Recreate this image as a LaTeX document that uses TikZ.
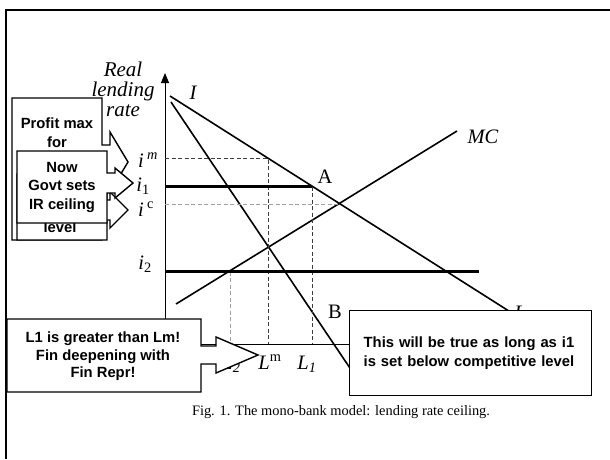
\documentclass[tikz,border=0pt]{standalone}
\usepackage{fontspec}
\setmainfont{Liberation Serif}
\setsansfont{Liberation Sans}
\usepackage{xcolor}
\usepackage{tikz}
\usetikzlibrary{arrows.meta,positioning,calc}
\definecolor{inkP}{HTML}{000000}
\definecolor{guideD}{HTML}{3C3C3C}
\definecolor{guideL}{HTML}{A0A0A0}
\tikzset{
  frameline/.style={line width=2.5pt, inkP},
  axisline/.style={line width=0.9pt, inkP},
  curveline/.style={line width=1.6pt, inkP},
  ceilline/.style={line width=2.8pt, inkP},
  dashD/.style={guideD, line width=0.9pt, dash pattern=on 4pt off 2.5pt},
  dashL/.style={guideL, line width=0.9pt, dash pattern=on 4pt off 2.5pt},
  ratelab/.style={font=\fontsize{20.5}{20}\selectfont\itshape, inner sep=0pt},
  ptlab/.style={font=\fontsize{20.5}{20}\selectfont, inner sep=0pt},
  calledge/.style={draw=inkP, line width=1.4pt, fill=white, line join=miter},
  calltext/.style={inner sep=0pt, align=center,
                   font=\fontsize{14.8}{18.5}\selectfont\sffamily\bfseries},
  captext/.style={font=\fontsize{14.4}{16}\selectfont, inner sep=0pt},
}
% #1 north west, #2 south east, #3 tip, #4 head offset, #5 shaft half, #6 head half
\newcommand{\callshape}[6]{%
  \draw[calledge] (#1) -- (#2 |- #1) -- ($(#2 |- #3)+(0,-#5)$)
    -- ($(#2 |- #3)+(#4,-#5)$) -- ($(#2 |- #3)+(#4,-#6)$) -- (#3)
    -- ($(#2 |- #3)+(#4,#6)$) -- ($(#2 |- #3)+(#4,#5)$)
    -- ($(#2 |- #3)+(0,#5)$) -- (#2) -- (#1 |- #2) -- cycle;}

\begin{document}
\begin{tikzpicture}[x=1pt, y=-1pt]
  \useasboundingbox (0,0) rectangle (610,459);
  \draw[frameline] (6,459) -- (6,10) -- (610,10);

  % axes
  \coordinate (O) at (165,344);
  \coordinate (yTop) at (165,73);
  \coordinate (xEnd) at (430,344);
  \draw[axisline, -{Triangle[length=10pt,width=8pt]}] (O) -- (yTop);
  \draw[axisline] (O) -- (xEnd);
  \node[ratelab, align=center, font=\fontsize{21}{20}\selectfont\itshape] (rateLab) at (123,89) {Real\\lending\\rate};

  % demand, marginal revenue, marginal cost
  \coordinate (dStart) at (170,96);
  \coordinate (dEnd) at (512,313);
  \coordinate (mrStart) at (171,102);
  \coordinate (mrEnd) at (360,383);
  \coordinate (mcStart) at (176,304);
  \coordinate (mcEnd) at (457,131);
  \draw[curveline] (dStart) -- (dEnd);
  \draw[curveline] (mrStart) -- (mrEnd);
  \draw[curveline] (mcStart) -- (mcEnd);

  % rates and quantities
  \coordinate (ptM) at (268,158.5);
  \coordinate (ptA) at (312,186.5);
  \coordinate (ptC) at (339,204);
  \coordinate (ptTwo) at (230,271.5);
  \coordinate (twoEnd) at (479,271.5);
  \draw[dashD] (O |- ptM) -- (ptM) -- (ptM |- O);
  \draw[dashL] (O |- ptC) -- (ptC);
  \draw[dashD] (ptA) -- (ptA |- O);
  \draw[dashL] (ptTwo) -- (ptTwo |- O);
  \draw[ceilline] (O |- ptA) -- (ptA);
  \draw[ceilline] (O |- ptTwo) -- (twoEnd);

  \node[ratelab] (dLab) at (193,93) {I};
  \node[ratelab] (dLabEnd) at (520,313) {L};
  \node[ratelab] (mcLab) at (483,137) {MC};
  \node[ptlab] (aLab) at (325,177) {A};
  \node[ptlab] (bLab) at (335,312) {B};
  \node[ratelab] (imLab) at (148,160) {i\,\textsuperscript{m}};
  \node[ratelab] (iOneLab) at (143,186) {i\textsubscript{\upshape 1}};
  \node[ratelab] (icLab) at (146,209) {i\,\textsuperscript{\upshape c}};
  \node[ratelab] (iTwoLab) at (145,264) {i\textsubscript{\upshape 2}};
  \node[ratelab] (lTwoLab) at (231,364) {L\textsubscript{2}};
  \node[ratelab] (lmLab) at (270,362) {L\textsuperscript{\upshape m}};
  \node[ratelab] (lOneLab) at (307,364) {L\textsubscript{1}};

  % callouts
  \coordinate (profitNW) at (12,98);
  \coordinate (profitSE) at (102,240);
  \coordinate (profitTip) at (128,162);
  \callshape{profitNW}{profitSE}{profitTip}{8}{17}{30}
  \node[calltext, anchor=north] (profit) at (57,118) {Profit max\\for};

  \coordinate (levelNW) at (17,174);
  \coordinate (levelSE) at (107,240);
  \coordinate (levelTip) at (128,210);
  \callshape{levelNW}{levelSE}{levelTip}{3}{10}{18}
  \node[calltext] (level) at (60,227) {level};

  \coordinate (nowNW) at (17,151);
  \coordinate (nowSE) at (107,223);
  \coordinate (nowTip) at (133,183);
  \callshape{nowNW}{nowSE}{nowTip}{8}{10}{15}
  \node[calltext] (now) at ($(nowNW)!0.5!(nowSE)$) {Now\\Govt sets\\IR ceiling};

  \coordinate (deepNW) at (7,319);
  \coordinate (deepSE) at (201,392);
  \coordinate (deepTip) at (258,355);
  \callshape{deepNW}{deepSE}{deepTip}{15}{9}{18}
  \node[calltext, font=\fontsize{14.8}{17.5}\selectfont\sffamily\bfseries] (deep) at (103,356.5)
    {L1 is greater than Lm!\\Fin deepening with\\Fin Repr!};

  \node[calledge, calltext, align=left, anchor=north west, minimum width=242pt,
        minimum height=85pt, text width=214pt, inner xsep=14pt] (trueNote) at (349,310)
    {This will be true as long as i1\\is set below competitive level};

  \node[captext] (caption) at (341,412) {Fig. 1. The mono-bank model: lending rate ceiling.};
\end{tikzpicture}
\end{document}
